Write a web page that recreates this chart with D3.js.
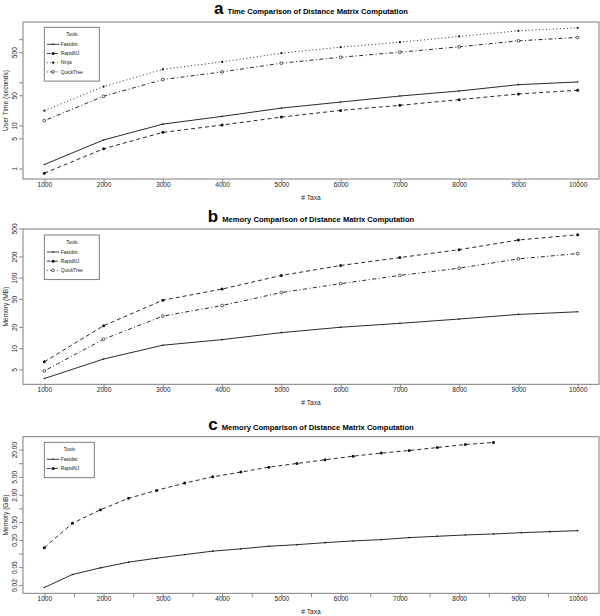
<!DOCTYPE html>
<html>
<head>
<meta charset="utf-8">
<script src="https://cdn.jsdelivr.net/npm/d3@7"></script>
<style>
  body { margin: 0; background: #fff; }
  svg { display: block; font-family: "Liberation Sans", Arial, Helvetica, sans-serif; }
</style>
</head>
<body>
<svg id="chart" width="600" height="616"></svg>
<script>
// ---------- data ----------
const taxaAB = [1000, 2000, 3000, 4000, 5000, 6000, 7000, 8000, 9000, 10000];
const timeFastdist  = [1.24, 4.6, 10.7, 16.2, 25.2, 34.8, 48, 62.8, 88, 101.6];
const timeRapidNJ   = [0.78, 2.87, 6.9, 10.2, 15.6, 22.3, 29.2, 39.6, 53.5, 65.2];
const timeNinja     = [22, 79.4, 200, 297, 472, 652, 851, 1156, 1560, 1832];
const timeQuickTree = [12.9, 47.3, 115.5, 174, 277, 381, 499, 663, 914, 1096];

const memFastdist  = [3.7, 7.0, 11.0, 13.2, 16.6, 19.8, 22.5, 25.9, 30.1, 32.8];
const memRapidNJ   = [6.4, 20.8, 47.9, 69, 107.7, 149, 193, 250, 343, 407];
const memQuickTree = [4.75, 13.4, 28.5, 40.3, 61.5, 82.3, 107.7, 136.5, 185, 220];

const taxaC = [1000, 1474, 1947, 2421, 2895, 3368, 3842, 4316, 4789, 5263,
               5737, 6211, 6684, 7158, 7632, 8105, 8579, 9053, 9526, 10000];
const gbFastdist = [0.0177, 0.0343, 0.0482, 0.0644, 0.0789, 0.0947, 0.113, 0.127, 0.145, 0.157,
                    0.174, 0.19, 0.203, 0.225, 0.241, 0.258, 0.271, 0.29, 0.305, 0.321];
const gbRapidNJ  = [0.135, 0.468, 0.93, 1.67, 2.5, 3.62, 4.99, 6.34, 8.17, 9.86,
                    11.9, 14.3, 16.7, 19.1, 22.2, 25.9, 28.7];

const xTicksAB = [1000, 2000, 3000, 4000, 5000, 6000, 7000, 8000, 9000, 10000];
const xTickLabelsAB = ["1000","2000","3000","4000","5000","6000","7000","8000","9000","10000"];
const xTicksC = [1000,1500,2000,2500,3000,3500,4000,4500,5000,5500,6000,6500,7000,7500,8000,8500,9000,9500,10000];
const xTickLabelsC = ["1000","","2000","","3000","","4000","","5000","","6000","","7000","","8000","","9000","","10000"];

const yTicksA = [1, 5, 10, 50, 100, 500, 1000];
const yTickLabelsA = ["1", "5", "10", "50", "", "500", ""];
const yTicksB = [5, 10, 20, 50, 100, 200, 500];
const yTickLabelsB = ["5", "10", "20", "50", "100", "200", "500"];
const yTicksC = [0.02, 0.05, 0.1, 0.2, 0.5, 1, 2, 5, 10, 20];
const yTickLabelsC = ["0.02", "0.05", "", "0.20", "0.50", "", "2.00", "5.00", "", "20.00"];

// ---------- styles per tool ----------
const toolStyle = {
  "Fastdist":  { dash: null,      marker: "dot",    r: 0.8 },
  "RapidNJ":   { dash: "4,3",     marker: "filled", r: 1.5 },
  "Ninja":     { dash: "1,2.5",   marker: "filled", r: 1.1 },
  "QuickTree": { dash: "1,2.5,4,2.5", marker: "open", r: 1.4 }
};

const svg = d3.select("#chart");
const AXIS = "#707070", TEXT = "#1a1a1a";

function logDomain(vals) {
  const lo = Math.log10(d3.min(vals)), hi = Math.log10(d3.max(vals));
  const pad = (hi - lo) * 0.04;
  return [Math.pow(10, lo - pad), Math.pow(10, hi + pad)];
}

function drawMarker(g, x, y, st) {
  if (st.marker === "open") {
    g.append("circle").attr("cx", x).attr("cy", y).attr("r", st.r)
      .attr("fill", "#fff").attr("stroke", "#111").attr("stroke-width", 0.7);
  } else {
    g.append("circle").attr("cx", x).attr("cy", y).attr("r", st.r).attr("fill", "#111");
  }
}

function panel(cfg) {
  const left = 23, right = 599;
  const top = cfg.top, bottom = cfg.bottom;
  const allVals = cfg.series.flatMap(s => s.values);
  const xs = d3.scaleLinear().domain([640, 10360]).range([left, right]);
  const ys = d3.scaleLog().domain(logDomain(allVals)).range([bottom, top]);
  const g = svg.append("g");

  // title
  const t = g.append("text").attr("x", cfg.titleX).attr("y", cfg.titleY)
    .attr("text-anchor", "middle").attr("fill", "#000").attr("font-weight", "bold");
  t.append("tspan").attr("font-size", 17).text(cfg.letter);
  t.append("tspan").attr("font-size", 7.6).attr("dx", 4).text(cfg.title);

  // x axis
  const xa = g.append("g").attr("transform", `translate(0,${bottom})`)
    .call(d3.axisBottom(xs).tickValues(cfg.xTicks).tickSize(4)
      .tickFormat((d, i) => cfg.xLabels[i]));
  xa.select(".domain").remove();
  xa.selectAll("line").attr("stroke", AXIS).attr("stroke-width", 0.8);
  xa.selectAll("text").attr("font-size", 6.6).attr("fill", TEXT).attr("font-family", null).attr("dy", "0.55em").attr("y", 4);

  // y axis
  const ya = g.append("g").attr("transform", `translate(${left},0)`)
    .call(d3.axisLeft(ys).tickValues(cfg.yTicks).tickSize(4)
      .tickFormat((d, i) => cfg.yLabels[i]));
  ya.select(".domain").remove();
  ya.selectAll("line").attr("stroke", AXIS).attr("stroke-width", 0.8);
  ya.selectAll("text").attr("font-size", 6.6).attr("fill", TEXT).attr("font-family", null)
    .attr("x", null).attr("dy", null).attr("text-anchor", "middle")
    .attr("transform", "translate(-6,0) rotate(-90)");

  // box
  g.append("rect").attr("x", left).attr("y", top).attr("width", right - left).attr("height", bottom - top)
    .attr("fill", "none").attr("stroke", AXIS).attr("stroke-width", 0.9);

  // axis titles
  g.append("text").attr("x", 311).attr("y", bottom + 21).attr("text-anchor", "middle")
    .attr("font-size", 6.6).attr("fill", TEXT).text("# Taxa");
  g.append("text").attr("transform", `translate(7.5,${(top + bottom) / 2}) rotate(-90)`)
    .attr("text-anchor", "middle").attr("font-size", 6.6).attr("fill", TEXT).text(cfg.yTitle);

  // series
  cfg.series.forEach(s => {
    const st = toolStyle[s.name];
    const pts = s.values.map((v, i) => [xs(s.x[i]), ys(v)]);
    g.append("path").attr("d", d3.line()(pts)).attr("fill", "none")
      .attr("stroke", "#111").attr("stroke-width", 0.9)
      .attr("stroke-dasharray", st.dash);
    pts.forEach(p => drawMarker(g, p[0], p[1], st));
  });

  // legend
  const lg = g.append("g");
  const lx = 44.3, ly = top + cfg.legTop;
  const lw = cfg.legW, lh = 17 + cfg.series.length * 9.2;
  lg.append("rect").attr("x", lx).attr("y", ly).attr("width", lw).attr("height", lh)
    .attr("fill", "#fff").attr("stroke", AXIS).attr("stroke-width", 0.9);
  lg.append("text").attr("x", lx + lw / 2).attr("y", ly + 9).attr("text-anchor", "middle")
    .attr("font-size", 4.8).attr("fill", TEXT).text("Tools");
  cfg.series.forEach((s, i) => {
    const st = toolStyle[s.name];
    const yy = ly + 17 + i * 9.2;
    lg.append("line").attr("x1", lx + 2.5).attr("x2", lx + 15).attr("y1", yy).attr("y2", yy)
      .attr("stroke", "#111").attr("stroke-width", 0.8).attr("stroke-dasharray", st.dash);
    drawMarker(lg, lx + 8.8, yy, st);
    lg.append("text").attr("x", lx + 16.5).attr("y", yy + 1.7)
      .attr("font-size", 4.8).attr("fill", TEXT).text(s.name);
  });
}

panel({
  letter: "a", title: "Time Comparison of Distance Matrix Computation",
  titleX: 311, titleY: 14, top: 22, bottom: 179,
  yTitle: "User Time (seconds)",
  xTicks: xTicksAB, xLabels: xTickLabelsAB, yTicks: yTicksA, yLabels: yTickLabelsA,
  legTop: 5.3, legW: 55,
  series: [
    { name: "Fastdist", x: taxaAB, values: timeFastdist },
    { name: "RapidNJ", x: taxaAB, values: timeRapidNJ },
    { name: "Ninja", x: taxaAB, values: timeNinja },
    { name: "QuickTree", x: taxaAB, values: timeQuickTree }
  ]
});

panel({
  letter: "b", title: "Memory Comparison of Distance Matrix Computation",
  titleX: 311, titleY: 221.5, top: 229, bottom: 384.3,
  yTitle: "Memory (MB)",
  xTicks: xTicksAB, xLabels: xTickLabelsAB, yTicks: yTicksB, yLabels: yTickLabelsB,
  legTop: 6, legW: 55,
  series: [
    { name: "Fastdist", x: taxaAB, values: memFastdist },
    { name: "RapidNJ", x: taxaAB, values: memRapidNJ },
    { name: "QuickTree", x: taxaAB, values: memQuickTree }
  ]
});

panel({
  letter: "c", title: "Memory Comparison of Distance Matrix Computation",
  titleX: 311, titleY: 429.5, top: 436.7, bottom: 593.3,
  yTitle: "Memory (GiB)",
  xTicks: xTicksC, xLabels: xTickLabelsC, yTicks: yTicksC, yLabels: yTickLabelsC,
  legTop: 5.6, legW: 50,
  series: [
    { name: "Fastdist", x: taxaC, values: gbFastdist },
    { name: "RapidNJ", x: taxaC, values: gbRapidNJ }
  ]
});
</script>
</body>
</html>
